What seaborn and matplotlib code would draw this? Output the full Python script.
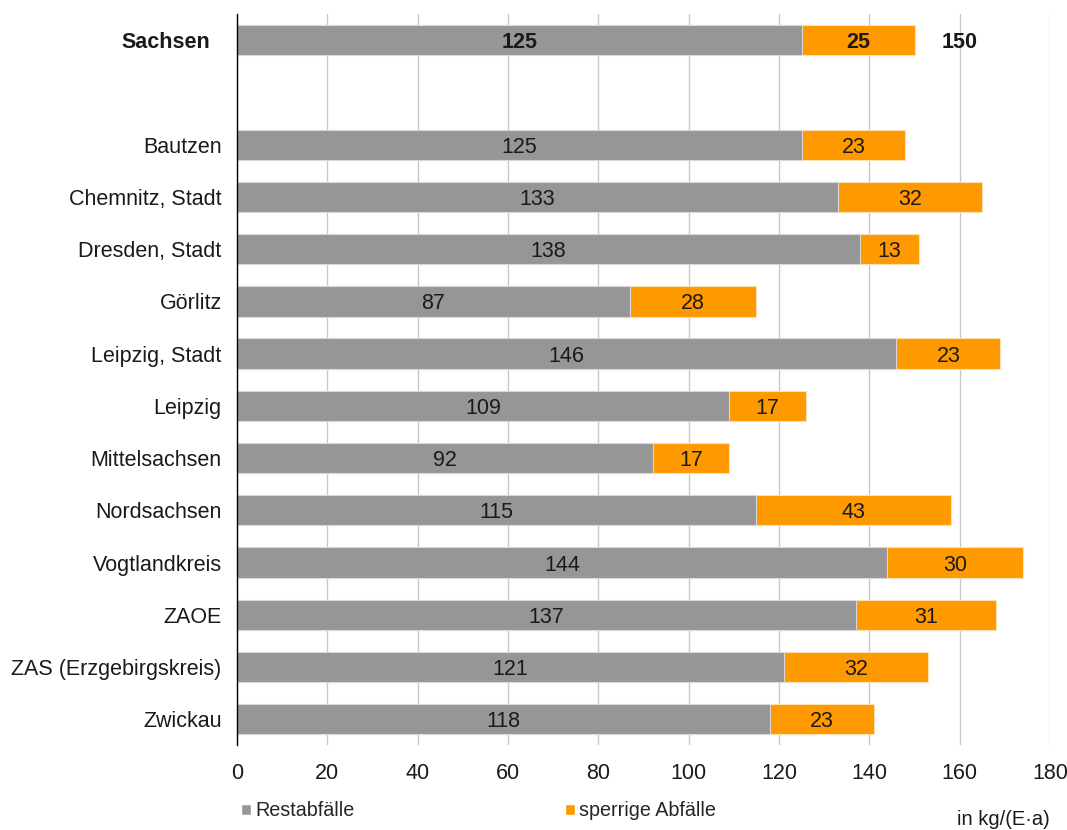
import matplotlib
matplotlib.use("Agg")
import matplotlib.pyplot as plt
import matplotlib.transforms as mtransforms
from matplotlib.patches import Patch
import seaborn as sns
import pandas as pd

regions = ["Sachsen", "Bautzen", "Chemnitz, Stadt", "Dresden, Stadt", "Görlitz",
           "Leipzig, Stadt", "Leipzig", "Mittelsachsen", "Nordsachsen",
           "Vogtlandkreis", "ZAOE", "ZAS (Erzgebirgskreis)", "Zwickau"]
restabfaelle = [125, 125, 133, 138, 87, 146, 109, 92, 115, 144, 137, 121, 118]
sperrige = [25, 23, 32, 13, 28, 23, 17, 17, 43, 30, 31, 32, 23]
xticks = [0, 20, 40, 60, 80, 100, 120, 140, 160, 180]

GREY = "#969696"
ORANGE = "#FF9900"
TEXT = "#1a1a1a"
FS = 15.5

sns.set_theme(style="white")
plt.rcParams["font.family"] = ["Liberation Sans", "DejaVu Sans"]

df = pd.DataFrame({"region": regions, "rest": restabfaelle, "sperr": sperrige})
df["total"] = df["rest"] + df["sperr"]

# blank slot separates the state total from the districts
order = [regions[0], " "] + regions[1:]

fig = plt.figure(figsize=(10.67, 8.30), dpi=100)
ax = fig.add_axes([0.2221, 0.102, 0.762, 0.881])

sns.barplot(data=df, x="total", y="region", order=order, color=ORANGE,
            width=0.58, saturation=1, edgecolor="#ffe0b0", linewidth=0.8, ax=ax)
sns.barplot(data=df, x="rest", y="region", order=order, color=GREY,
            width=0.58, saturation=1, edgecolor="#d8d8d8", linewidth=0.8, ax=ax)

ypos = {r: i for i, r in enumerate(order)}
for r, a, b in zip(regions, restabfaelle, sperrige):
    y = ypos[r]
    bold = r == "Sachsen"
    fw = "bold" if bold else "normal"
    ax.text(a / 2, y, f"{a}", ha="center", va="center_baseline", fontsize=FS,
            fontweight=fw, color=TEXT)
    ax.text(a + b / 2, y, f"{b}", ha="center", va="center_baseline", fontsize=FS,
            fontweight=fw, color=TEXT)
    if bold:
        ax.text(a + b + 6, y, f"{a + b}", ha="left", va="center_baseline",
                fontsize=FS, fontweight="bold", color=TEXT)

ax.set_xlim(0, 180)
ax.set_ylim(len(order) - 0.5, -0.5)
ax.set_xticks(xticks)
ax.set_xticklabels([str(t) for t in xticks], fontsize=FS, color=TEXT)
ax.tick_params(axis="x", length=0, pad=13)
ax.tick_params(axis="y", length=0, pad=11)
ax.set_xlabel("")
ax.set_ylabel("")
shift = mtransforms.ScaledTranslation(-12 / 100, 0, fig.dpi_scale_trans)
for lbl in ax.get_yticklabels():
    lbl.set_fontsize(FS)
    lbl.set_color(TEXT)
    if lbl.get_text() == "Sachsen":
        lbl.set_fontweight("bold")
        lbl.set_transform(lbl.get_transform() + shift)

ax.grid(axis="x", color="#c8c8c8", linewidth=1)
ax.grid(axis="y", visible=False)
ax.set_axisbelow(True)
for side in ["top", "right", "bottom"]:
    ax.spines[side].set_visible(False)
ax.spines["left"].set_color("black")
ax.spines["left"].set_linewidth(1)

handles = [Patch(facecolor=GREY, label="Restabfälle"),
           Patch(facecolor=ORANGE, label="sperrige Abfälle")]
fig.legend(handles=handles, loc="center left", bbox_to_anchor=(0.2095, 0.023),
           ncol=2, frameon=False, fontsize=14.2, handlelength=0.5, handleheight=0.5,
           handletextpad=0.2, columnspacing=10.7)
fig.text(0.94, 0.001, "in kg/(E·a)", ha="center", va="bottom", fontsize=14.5,
         color=TEXT)

fig.savefig("out.png", dpi=100)
